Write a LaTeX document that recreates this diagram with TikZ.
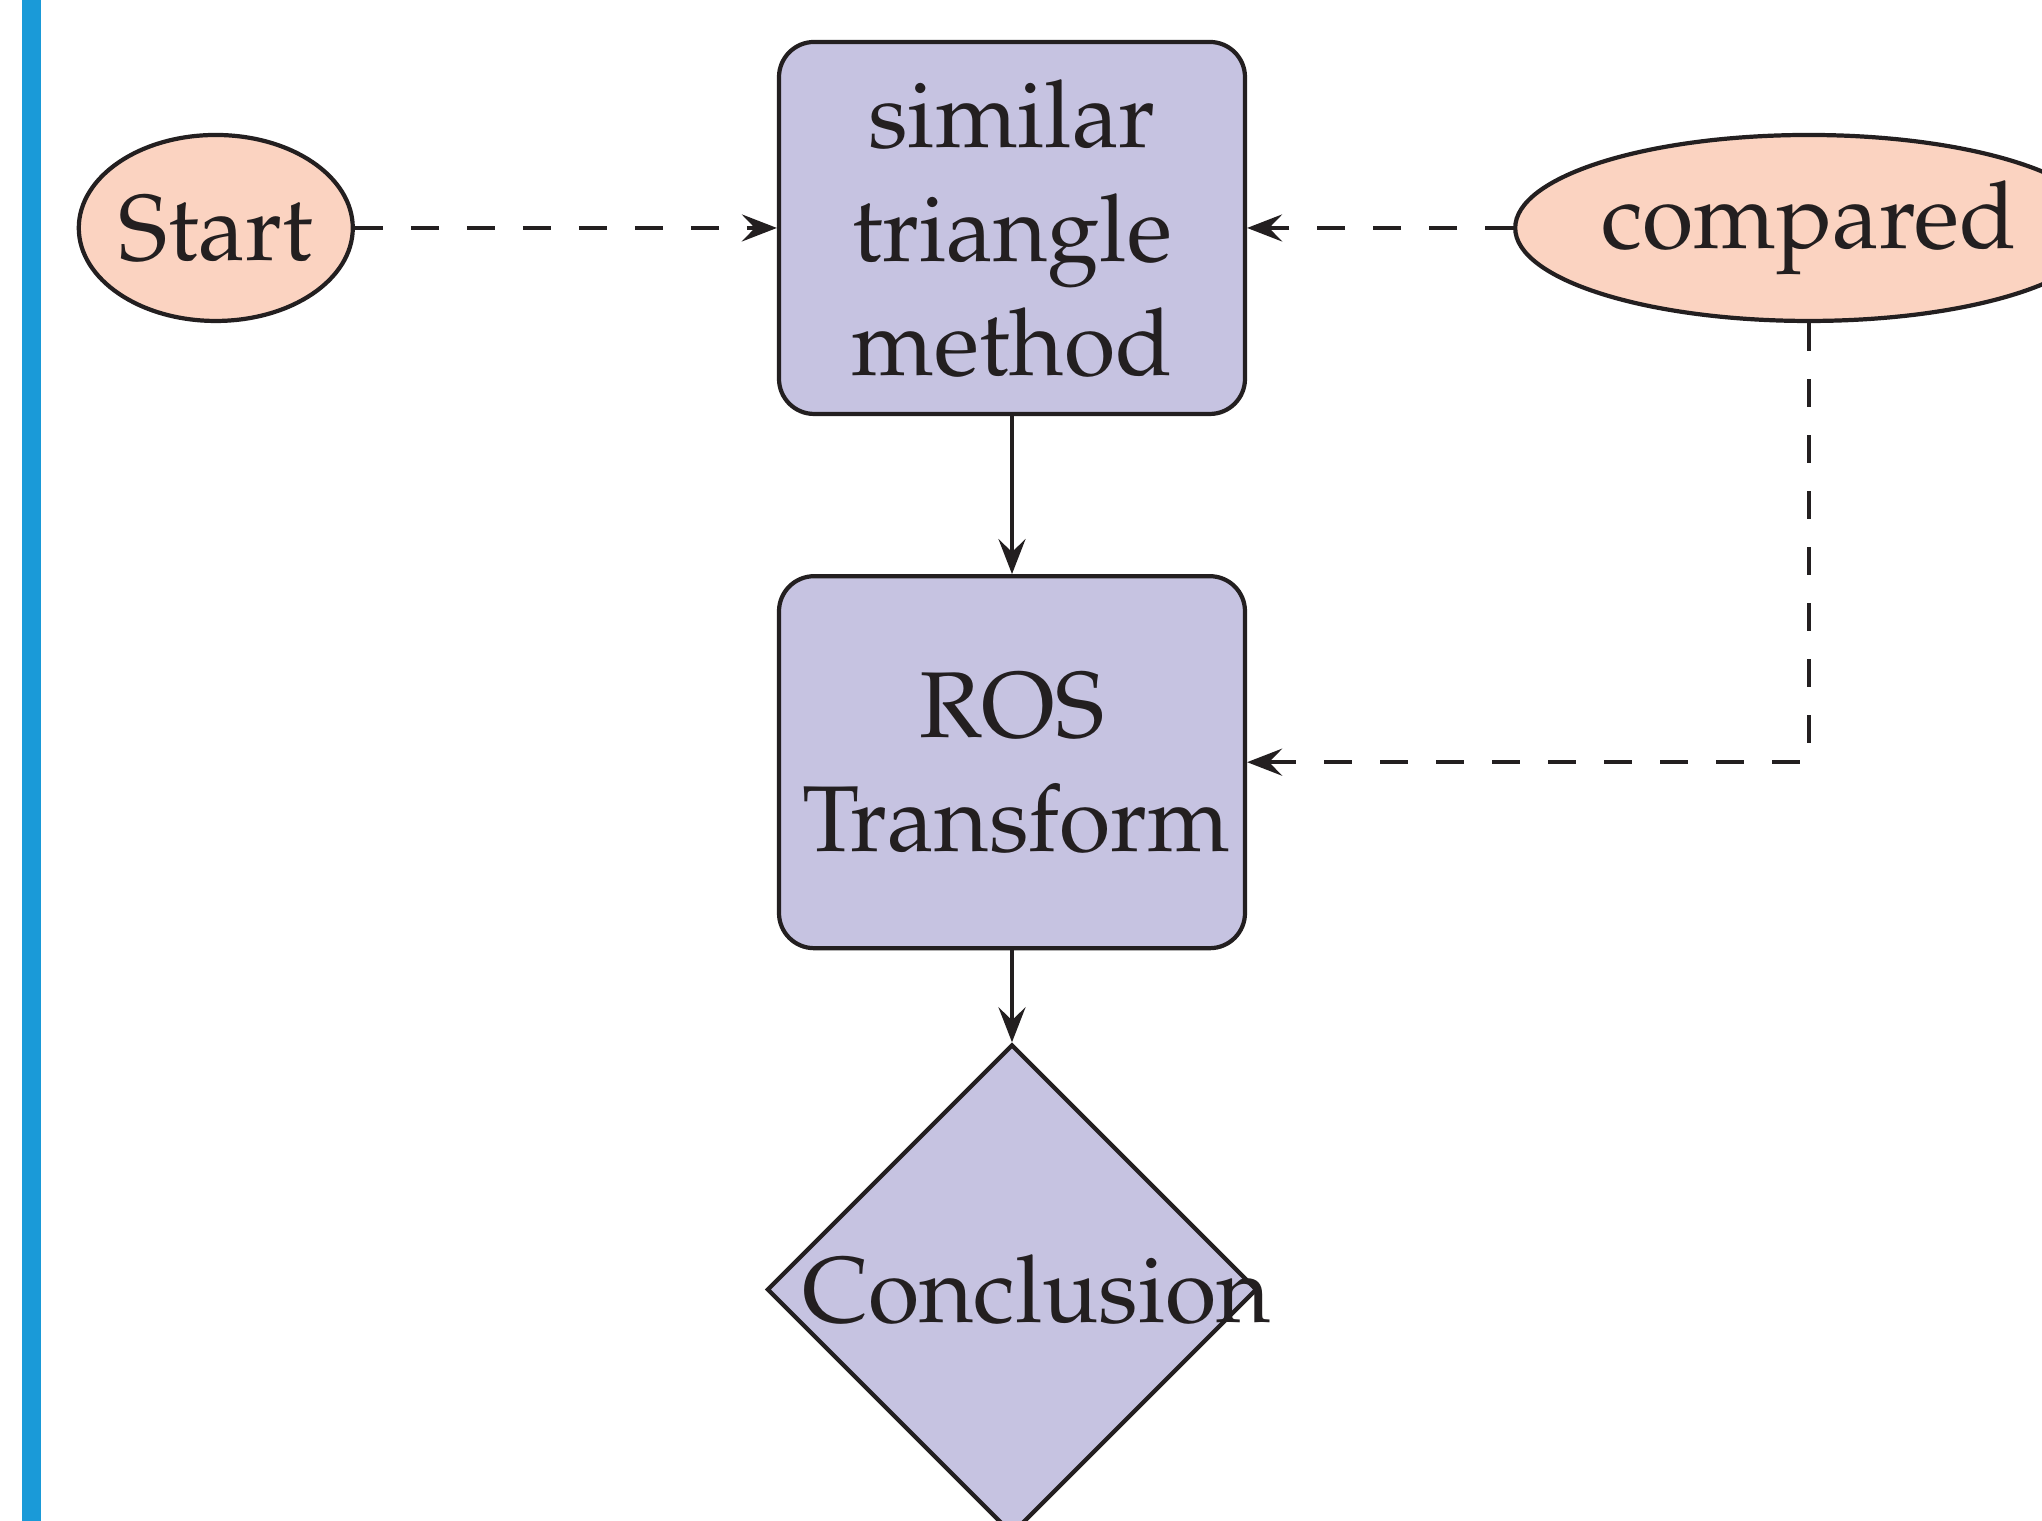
\documentclass[tikz,border=0pt]{standalone}
\usepackage[OT1]{fontenc}
\usepackage{mathpazo}
\usetikzlibrary{arrows.meta,positioning,shapes.geometric}
\definecolor{boxfill}{HTML}{C6C3E1}
\definecolor{ovalfill}{HTML}{FBD3C1}
\definecolor{inkline}{HTML}{231F20}
\definecolor{barblue}{HTML}{1A9AD8}
\begin{document}
\begin{tikzpicture}[
  font=\fontsize{13.3pt}{16.2pt}\selectfont,
  line width=0.6pt,
  every node/.style={text=inkline},
  proc/.style={draw=inkline,fill=boxfill,rounded corners=5pt,align=center,text width=2.1cm,inner sep=0pt,minimum width=2.33cm,minimum height=1.86cm},
  term/.style={draw=inkline,fill=ovalfill,ellipse,inner sep=0pt,minimum height=0.93cm},
  decide/.style={draw=inkline,fill=boxfill,diamond,align=center,text width=2.1cm,inner sep=0pt,minimum size=2.45cm},
  arr/.style={draw=inkline,-{Stealth[length=1.75mm,width=1.35mm,inset=0.65mm]}},
  dsh/.style={dash pattern=on 0.14cm off 0.14cm}
]
\useasboundingbox (0,0) rectangle (10.21,-7.605);
\fill[barblue] (0.11,0) rectangle (0.205,-7.605);
% Row 1
\node[proc] (sim) at (5.06,-1.14) {similar\\triangle\\method};
\node[term,minimum width=1.37cm,left=2.11cm of sim] (start) {Start};
\node[term,right=1.33cm of sim] (cmp) {compared};
% Column
\node[proc,below=0.79cm of sim] (ros) {ROS\\Transform};
\node[decide,below=0.46cm of ros] (concl) {Conclusion};

\draw[arr,dsh] (start) -- (sim);
\draw[arr,dsh] (cmp) -- (sim);
\draw[arr] (sim) -- (ros);
\draw[arr] (ros) -- (concl);
\draw[arr,dsh] (cmp.south) |- (ros.east);
\end{tikzpicture}
\end{document}
